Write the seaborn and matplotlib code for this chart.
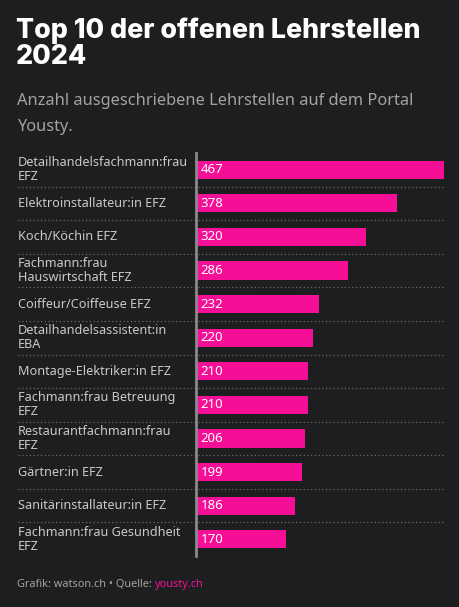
import matplotlib
matplotlib.use("Agg")
import matplotlib.pyplot as plt
import matplotlib.transforms as mtransforms
import seaborn as sns
import pandas as pd

# data
jobs = [
    "Detailhandelsfachmann:frau\nEFZ",
    "Elektroinstallateur:in EFZ",
    "Koch/Köchin EFZ",
    "Fachmann:frau\nHauswirtschaft EFZ",
    "Coiffeur/Coiffeuse EFZ",
    "Detailhandelsassistent:in\nEBA",
    "Montage-Elektriker:in EFZ",
    "Fachmann:frau Betreuung\nEFZ",
    "Restaurantfachmann:frau\nEFZ",
    "Gärtner:in EFZ",
    "Sanitärinstallateur:in EFZ",
    "Fachmann:frau Gesundheit\nEFZ",
]
openings = [467, 378, 320, 286, 232, 220, 210, 210, 206, 199, 186, 170]

BG = "#1d1e20"
PINK = "#f50f96"
LABEL_GREY = "#c9c9c9"
SUB_GREY = "#a3a3a3"

df = pd.DataFrame({"job": jobs, "n": openings})

sns.set_theme(style="white")
plt.rcParams["font.family"] = ["Noto Sans", "DejaVu Sans"]

fig = plt.figure(figsize=(4.59, 6.07), dpi=100, facecolor=BG)
W, H = 459, 607
ax = fig.add_axes([196 / W, 1 - 556 / H, (444 - 196) / W, (556 - 153) / H])
ax.set_facecolor(BG)

sns.barplot(data=df, x="n", y="job", color=PINK, saturation=1, width=0.54,
            orient="h", linewidth=0, ax=ax)

ax.set_xlim(0, max(openings))
ax.set_ylim(len(jobs) - 0.5, -0.5)
ax.set_xlabel("")
ax.set_ylabel("")
ax.set_xticks([])
ax.set_yticks([])
for side in ["top", "right", "bottom"]:
    ax.spines[side].set_visible(False)
ax.spines["left"].set_color("#8a8a8a")
ax.spines["left"].set_linewidth(2)

# row labels and dotted separators
trans = mtransforms.blended_transform_factory(fig.transFigure, ax.transData)
for i, (job, val) in enumerate(zip(jobs, openings)):
    ax.text(18 / W, i, job, transform=trans, ha="left", va="center",
            fontsize=9.1, color=LABEL_GREY, linespacing=1.12)
    ax.annotate(str(val), xy=(0, i), xytext=(3.5, 0), textcoords="offset points",
                ha="left", va="center", fontsize=9.5, color="white",
                fontweight="bold")
    if i < len(jobs) - 1:
        ax.plot([18 / W, 444 / W], [i + 0.5, i + 0.5], transform=trans,
                color="#6a6a6a", linestyle=(0, (1, 2)), linewidth=0.9,
                clip_on=False)

# title, subtitle, footer
fig.text(16 / W, 1 - 17 / H, "Top 10 der offenen Lehrstellen\n2024",
         ha="left", va="top", fontsize=19.3, fontweight="heavy", color="white",
         family=["Inter", "DejaVu Sans"], linespacing=1.0)
fig.text(17 / W, 1 - 101 / H, "Anzahl ausgeschriebene Lehrstellen auf dem Portal",
         ha="left", va="center", fontsize=11.8, color=SUB_GREY)
fig.text(17 / W, 1 - 127 / H, "Yousty.",
         ha="left", va="center", fontsize=11.8, color=SUB_GREY)
t = fig.text(17 / W, 1 - 584 / H, "Grafik: watson.ch • Quelle: ",
             ha="left", va="center", fontsize=7.9, color=SUB_GREY)
fig.canvas.draw()
bb = t.get_window_extent()
fig.text(bb.x1 / W, 1 - 584 / H, "yousty.ch", ha="left", va="center",
         fontsize=7.9, color=PINK)

fig.savefig("out.png", dpi=100, facecolor=BG)
